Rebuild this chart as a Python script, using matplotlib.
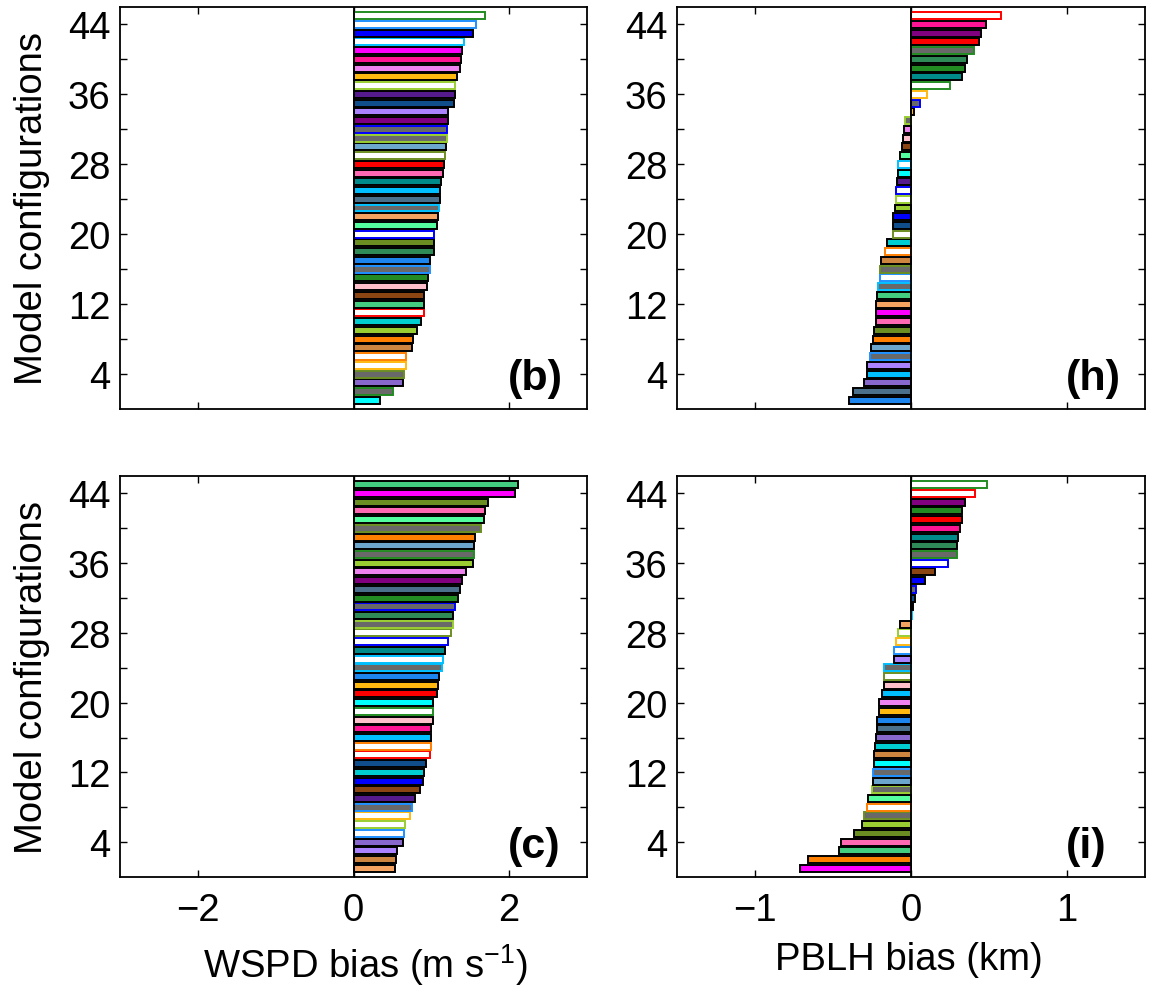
import numpy as np
import matplotlib
matplotlib.use("Agg")
import matplotlib.pyplot as plt

plt.rcParams['font.family'] = ['Liberation Sans', 'DejaVu Sans']
plt.rcParams['mathtext.fontset'] = 'custom'
plt.rcParams['mathtext.rm'] = 'Liberation Sans'
plt.rcParams['mathtext.it'] = 'Liberation Sans:italic'
plt.rcParams['mathtext.bf'] = 'Liberation Sans:bold'

# ---------------- data ----------------
configs = np.arange(1, 46)
ytick_values = [4, 12, 20, 28, 36, 44]
ytick_labels = ['4', '12', '20', '28', '36', '44']
wspd_xticks = [-2, 0, 2]
pblh_xticks = [-1, 0, 1]

b_styles = ['cyan', 'g_forestgreen', 'mediumpurple', 'g_olive', 'w_gold', 'w_darkorange', 'peru',
            'darkorange', 'yellowgreen', 'darkturquoise', 'w_red', 'mediumseagreen', 'saddlebrown',
            'pink', 'forestgreen', 'g_dodgerblue', 'dodgerblue', 'seagreen', 'olivedrab', 'w_blue',
            'seagreen1', 'sandybrown', 'g_deepskyblue', 'slate', 'deepskyblue', 'teal', 'hotpink',
            'red', 'w_olive', 'steelblue', 'g_yellowgreen', 'g_blue', 'purple', 'lightpurple',
            'darkblue', 'indigo', 'w_yellowgreen', 'gold', 'violet', 'deeppink', 'magenta',
            'w_deepskyblue', 'blue', 'w_dodgerblue', 'w_forestgreen']
b_vals = [0.34, 0.51, 0.64, 0.65, 0.68, 0.68, 0.75, 0.77, 0.82, 0.87, 0.90, 0.90, 0.91, 0.946,
          0.96, 0.98, 0.985, 1.03, 1.03, 1.04, 1.07, 1.09, 1.10, 1.105, 1.11, 1.12, 1.15, 1.16,
          1.17, 1.19, 1.20, 1.20, 1.21, 1.22, 1.286, 1.30, 1.31, 1.33, 1.37, 1.38, 1.39, 1.415,
          1.535, 1.57, 1.69]

h_styles = ['dodgerblue', 'slate', 'mediumpurple', 'deepskyblue', 'lightpurple', 'g_dodgerblue',
            'steelblue', 'darkorange', 'olivedrab', 'hotpink', 'magenta', 'sandybrown',
            'mediumseagreen', 'g_deepskyblue', 'w_dodgerblue', 'g_olive', 'peru', 'w_darkorange',
            'darkturquoise', 'w_olive', 'darkblue', 'blue', 'yellowgreen', 'w_yellowgreen',
            'w_blue', 'indigo', 'cyan', 'w_deepskyblue', 'seagreen1', 'saddlebrown', 'pink',
            'violet', 'g_yellowgreen', 'gold', 'g_blue', 'w_gold', 'w_forestgreen', 'teal',
            'forestgreen', 'seagreen', 'g_forestgreen', 'red', 'purple', 'deeppink', 'w_red']
h_vals = [-0.397, -0.369, -0.304, -0.285, -0.279, -0.264, -0.255, -0.242, -0.236, -0.227,
          -0.227, -0.225, -0.219, -0.214, -0.201, -0.197, -0.191, -0.169, -0.156, -0.118,
          -0.116, -0.113, -0.105, -0.094, -0.094, -0.090, -0.086, -0.081, -0.071, -0.058,
          -0.051, -0.047, -0.041, 0.020, 0.060, 0.105, 0.247, 0.326, 0.349, 0.358, 0.407,
          0.435, 0.446, 0.478, 0.574]

c_styles = ['sandybrown', 'peru', 'lightpurple', 'mediumpurple', 'w_dodgerblue', 'w_yellowgreen',
            'w_gold', 'g_dodgerblue', 'indigo', 'saddlebrown', 'blue', 'darkturquoise', 'darkblue',
            'w_red', 'w_darkorange', 'deepskyblue', 'deeppink', 'pink', 'w_forestgreen', 'cyan',
            'red', 'gold', 'dodgerblue', 'g_deepskyblue', 'w_deepskyblue', 'teal', 'w_blue',
            'w_olive', 'g_yellowgreen', 'seagreen', 'g_blue', 'forestgreen', 'slate', 'purple',
            'violet', 'yellowgreen', 'g_forestgreen', 'steelblue', 'darkorange', 'g_olive',
            'seagreen1', 'hotpink', 'olivedrab', 'magenta', 'mediumseagreen']
c_vals = [0.529, 0.546, 0.563, 0.636, 0.654, 0.667, 0.723, 0.757, 0.791, 0.86, 0.89, 0.912,
          0.929, 0.985, 0.99, 0.99, 0.994, 1.015, 1.015, 1.024, 1.071, 1.088, 1.10, 1.135,
          1.144, 1.17, 1.209, 1.252, 1.277, 1.282, 1.303, 1.338, 1.372, 1.398, 1.445, 1.54,
          1.548, 1.553, 1.566, 1.639, 1.673, 1.695, 1.725, 2.077, 2.116]

i_styles = ['magenta', 'darkorange', 'mediumseagreen', 'hotpink', 'olivedrab', 'yellowgreen',
            'g_olive', 'w_darkorange', 'seagreen1', 'g_yellowgreen', 'steelblue', 'g_dodgerblue',
            'cyan', 'peru', 'darkturquoise', 'mediumpurple', 'slate', 'dodgerblue', 'gold',
            'violet', 'deepskyblue', 'pink', 'w_olive', 'g_deepskyblue', 'lightpurple',
            'w_dodgerblue', 'w_gold', 'w_yellowgreen', 'sandybrown', 'w_deepskyblue', 'indigo',
            'darkblue', 'g_blue', 'blue', 'saddlebrown', 'w_blue', 'g_forestgreen', 'seagreen',
            'teal', 'deeppink', 'red', 'forestgreen', 'purple', 'w_red', 'w_forestgreen']
i_vals = [-0.71, -0.66, -0.461, -0.448, -0.367, -0.311, -0.30, -0.283, -0.274, -0.251, -0.246,
          -0.246, -0.24, -0.24, -0.229, -0.227, -0.221, -0.216, -0.208, -0.202, -0.189, -0.174,
          -0.174, -0.174, -0.109, -0.107, -0.099, -0.081, -0.071, 0.004, 0.011, 0.024, 0.034,
          0.088, 0.156, 0.238, 0.292, 0.296, 0.304, 0.313, 0.33, 0.33, 0.343, 0.412, 0.484]

# ---------------- styles ----------------
base = {
    'cyan': '#00FFFF', 'mediumpurple': '#8968CD', 'peru': '#CD853F', 'darkorange': '#FF7F00',
    'yellowgreen': '#9ACD32', 'darkturquoise': '#00CED1', 'mediumseagreen': '#43CD80',
    'saddlebrown': '#8B4513', 'pink': '#FFC0CB', 'forestgreen': '#228B22',
    'dodgerblue': '#1C86EE', 'seagreen': '#2E8B57', 'olivedrab': '#6B8E23',
    'seagreen1': '#54FF9F', 'sandybrown': '#F4A460', 'slate': '#4A708B',
    'deepskyblue': '#00BFFF', 'teal': '#008B8B', 'hotpink': '#FF69B4', 'red': '#FF0000',
    'steelblue': '#6CA6CD', 'purple': '#800080', 'lightpurple': '#AB82FF',
    'darkblue': '#104E8B', 'indigo': '#551A8B', 'gold': '#FFB90F', 'violet': '#EE82EE',
    'deeppink': '#FF1493', 'magenta': '#FF00FF', 'blue': '#0000FF',
}
edge_cols = {'forestgreen': '#228B22', 'olive': '#6B8E23', 'dodgerblue': '#1E90FF',
             'deepskyblue': '#00BFFF', 'yellowgreen': '#9ACD32', 'blue': '#0000FF',
             'gold': '#FFB90F', 'darkorange': '#FF7F00', 'red': '#FF0000'}
GREY = '#696969'


def style_of(key):
    if key.startswith('g_'):
        return GREY, edge_cols[key[2:]]
    if key.startswith('w_'):
        return 'white', edge_cols[key[2:]]
    return base[key], 'black'


W, H = 1154, 987
fig = plt.figure(figsize=(W / 100, H / 100), dpi=100)


def make_ax(l, t, r, b):
    return fig.add_axes([l / W, 1 - b / H, (r - l) / W, (b - t) / H])


panels = [
    (make_ax(120, 8, 587, 410), b_styles, b_vals, (-3, 3), wspd_xticks, '(b)', True, None, 0.5),
    (make_ax(677, 8, 1145, 410), h_styles, h_vals, (-1.5, 1.5), pblh_xticks, '(h)', False, None, 0.5),
    (make_ax(120, 477, 587, 878), c_styles, c_vals, (-3, 3), wspd_xticks, '(c)', True,
     'WSPD bias (m s$^{-1}$)', 0.525),
    (make_ax(677, 477, 1145, 878), i_styles, i_vals, (-1.5, 1.5), pblh_xticks, '(i)', False,
     'PBLH bias (km)', 0.495),
]

FS = 27.5
for ax, styles, vals, xlim, xticks, tag, left, xlabel, xlx in panels:
    fcs = [style_of(s)[0] for s in styles]
    ecs = [style_of(s)[1] for s in styles]
    ax.barh(configs, vals, height=0.8, color=fcs, edgecolor=ecs, linewidth=1.4, zorder=2)
    ax.axvline(0, color='black', lw=1.3, zorder=3)
    ax.set_xlim(*xlim)
    ax.set_ylim(0, 46)
    ax.set_xticks(xticks)
    ax.set_yticks(np.arange(4, 45, 4))
    labs = [ytick_labels[ytick_values.index(v)] if v in ytick_values else ''
            for v in np.arange(4, 45, 4)]
    ax.set_yticklabels(labs)
    if left:
        ax.set_ylabel('Model configurations', fontsize=FS)
        ax.yaxis.set_label_coords(-0.15, 0.5)
    if xlabel is None:
        ax.set_xticklabels([])
    else:
        ax.set_xlabel(xlabel, fontsize=FS, labelpad=9)
        ax.xaxis.label.set_x(xlx)
    ax.tick_params(direction='in', length=5, width=1, top=True, right=True,
                   labelsize=FS, pad=7)
    ax.tick_params(axis='x', pad=11)
    for sp in ax.spines.values():
        sp.set_linewidth(1.3)
    ax.text(0.83, 0.077, tag, transform=ax.transAxes, fontsize=31, fontweight='bold',
            ha='left', va='center')

fig.savefig('out.png', dpi=100)
